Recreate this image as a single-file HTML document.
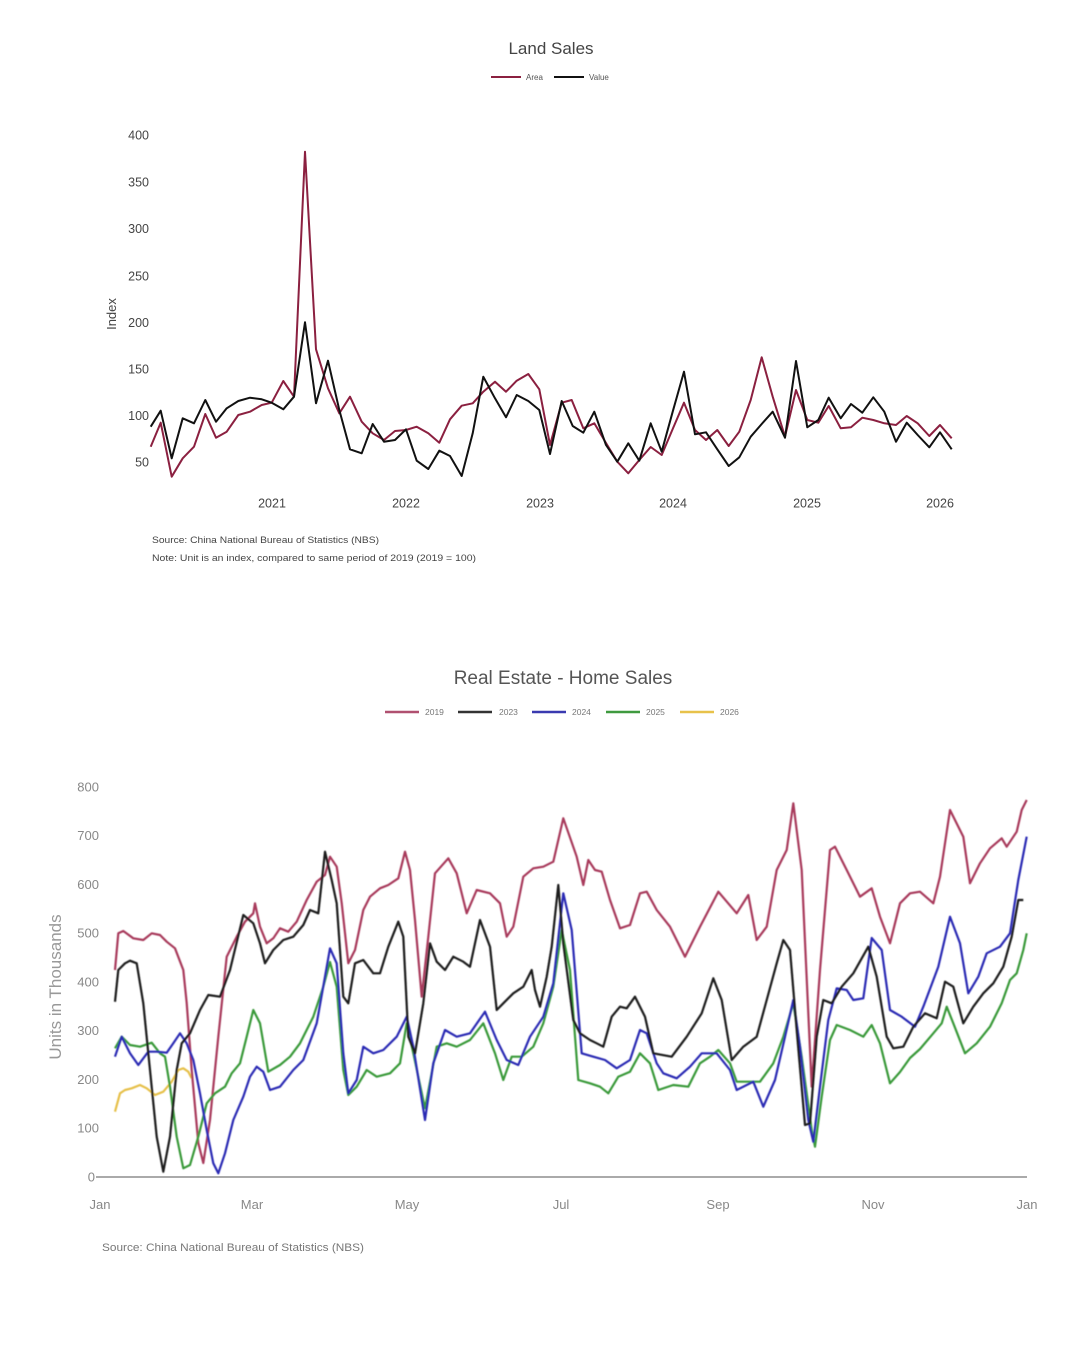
<!DOCTYPE html>
<html><head><meta charset="utf-8"><style>
html,body{margin:0;padding:0;background:#fff;}
svg{display:block;font-family:"Liberation Sans","DejaVu Sans",sans-serif;}
</style></head><body>
<svg width="1080" height="1350" viewBox="0 0 1080 1350" xmlns="http://www.w3.org/2000/svg">
<defs><filter id="soft" x="-5%" y="-5%" width="110%" height="110%"><feGaussianBlur stdDeviation="0.55"/></filter></defs>
<rect width="1080" height="1350" fill="#fff"/>
<!-- TOP CHART -->
<text x="551" y="54" text-anchor="middle" font-size="17" fill="#444">Land Sales</text>
<line x1="491" y1="77" x2="521" y2="77" stroke="#8b2040" stroke-width="2"/>
<text x="526" y="80" font-size="8" fill="#555">Area</text>
<line x1="554" y1="77" x2="584" y2="77" stroke="#111" stroke-width="2"/>
<text x="589" y="80" font-size="8" fill="#555">Value</text>
<g font-size="12.5" fill="#444" text-anchor="end">
<text x="149" y="139.5">400</text>
<text x="149" y="186.5">350</text>
<text x="149" y="233">300</text>
<text x="149" y="280.5">250</text>
<text x="149" y="327">200</text>
<text x="149" y="373.5">150</text>
<text x="149" y="420">100</text>
<text x="149" y="466.5">50</text>
</g>
<text transform="translate(116,314) rotate(-90)" text-anchor="middle" font-size="13" fill="#444">Index</text>
<g font-size="12.5" fill="#444" text-anchor="middle">
<text x="272" y="507.5">2021</text>
<text x="406" y="507.5">2022</text>
<text x="540" y="507.5">2023</text>
<text x="673" y="507.5">2024</text>
<text x="807" y="507.5">2025</text>
<text x="940" y="507.5">2026</text>
</g>
<polyline fill="none" stroke="#8b2040" stroke-width="2" stroke-linejoin="round" points="150.7,446.7 160.7,422.7 171.7,476.7 182.7,458.3 194,446.7 205.3,414 216,437.7 226.7,431.7 238.3,415 250,411.7 261.7,405 271.7,402.7 283.3,381 294,396.7 305,151.7 316,349.3 328,388.3 339.3,413.3 350,396.7 361.7,421.7 372.7,433.3 384,440 395,431 406,430 416.7,426.7 428.3,433.3 439.3,442.7 450,419.3 461.7,405.7 472.7,403.3 483.3,391.7 495,381.7 506,391.7 516.7,380.7 528.3,374 539.3,389.3 550,445 561.7,402.7 571.7,400 583.3,428.3 594.3,423.3 606,443 617.3,461.7 628.3,473.3 639.3,460 650.7,447 661.7,455 672.7,429 684,402.7 695,430 706,440 717.3,430 728.7,446 739.3,431.7 750.7,400 761.7,357.3 772.7,396.7 785,436.7 796,390 807.3,420 818.3,422.7 828.7,406 840.7,428.3 851,427.3 862.3,417.7 873.3,420 884.3,423.3 896,425 906.7,416 917.7,423.3 929.3,436 940,425 951.7,438.3"/>
<polyline fill="none" stroke="#111" stroke-width="2" stroke-linejoin="round" points="150.7,426.7 160.7,410.7 171.7,458.3 182.7,418.3 194,423.3 205.3,400 216,421.7 226.7,408.3 238.3,401 250,397.7 261.7,399.3 271.7,402.7 283.3,409.3 294,396.7 305,322.3 316,403.3 328,360.7 339.3,410 350,449.3 361.7,453.3 372.7,424 384,441.7 395,440 406,429.3 416.7,460.7 428.3,469 439.3,450.7 450,456 461.7,476 472.7,433.3 483.3,376.7 495,398.3 506,417.3 516.7,395 528.3,401 539.3,410 550,454 561.7,401 572.7,426 583.3,432.7 594.3,411.7 606,445 617.3,461.7 628.3,443.3 639.3,460.7 650.7,423.3 661.7,451.7 672.7,411.7 684,371.7 695,434.3 706,432.3 717.3,449.3 728.7,466 739.3,457.3 750.7,436.7 761.7,424 772.7,411.7 785,437.7 796,361 807.3,427.3 818.3,420 828.7,397.7 840.7,418.3 851,404 862.3,412.7 873.3,397.3 884.3,411.7 896,441.7 906.7,422.7 917.7,435 929.3,447.3 940,432.3 951.7,449.3"/>
<text x="152" y="543" font-size="9.5" fill="#444" textLength="227" lengthAdjust="spacingAndGlyphs">Source: China National Bureau of Statistics (NBS)</text>
<text x="152" y="561" font-size="9.5" fill="#444" textLength="324" lengthAdjust="spacingAndGlyphs">Note: Unit is an index, compared to same period of 2019 (2019 = 100)</text>

<!-- BOTTOM CHART -->
<text x="563" y="684" text-anchor="middle" font-size="19" fill="#555">Real Estate - Home Sales</text>
<g stroke-width="2.5">
<line x1="385" y1="712" x2="419" y2="712" stroke="#b05070"/>
<line x1="458" y1="712" x2="492" y2="712" stroke="#333"/>
<line x1="532" y1="712" x2="566" y2="712" stroke="#3a3ab0"/>
<line x1="606" y1="712" x2="640" y2="712" stroke="#3f9a3f"/>
<line x1="680" y1="712" x2="714" y2="712" stroke="#e8c24a"/>
</g>
<g font-size="8.5" fill="#777">
<text x="425" y="715">2019</text>
<text x="499" y="715">2023</text>
<text x="572" y="715">2024</text>
<text x="646" y="715">2025</text>
<text x="720" y="715">2026</text>
</g>
<g font-size="13" fill="#888" text-anchor="end">
<text x="99" y="791.5">800</text>
<text x="99" y="840">700</text>
<text x="99" y="889">600</text>
<text x="99" y="937.5">500</text>
<text x="99" y="986.5">400</text>
<text x="99" y="1035">300</text>
<text x="99" y="1084">200</text>
<text x="99" y="1132.5">100</text>
<text x="95" y="1181.5">0</text>
</g>
<text transform="translate(61,987) rotate(-90)" text-anchor="middle" font-size="17" fill="#999">Units in Thousands</text>
<line x1="96" y1="1177" x2="1027" y2="1177" stroke="#aaa" stroke-width="2"/>
<g font-size="13" fill="#888" text-anchor="middle">
<text x="100" y="1209">Jan</text>
<text x="252" y="1209">Mar</text>
<text x="407" y="1209">May</text>
<text x="561" y="1209">Jul</text>
<text x="718" y="1209">Sep</text>
<text x="873" y="1209">Nov</text>
<text x="1027" y="1209">Jan</text>
</g>
<g fill="none" stroke-width="2.2" stroke-linejoin="round" filter="url(#soft)">
<polyline stroke="#e6c04a" points="115,1111.7 120,1093.3 125,1090 131.7,1088.3 140,1085 146.7,1088.3 155,1095 163.3,1091.7 171.7,1081.7 178.3,1070 183.3,1068.3 188.3,1071.7 191.7,1078.3"/>
<polyline stroke="#a83a5c" points="115,970 118.3,933.3 123.3,931 133.3,938.3 143.3,940 151.7,933.3 160,935 166.7,941.7 175,948.3 183.3,970 186.7,1003 191.7,1070 198.3,1143 203.3,1163 210,1120 218.3,1036.7 226.7,956.7 236.7,936.7 245,921.7 253.3,913.3 255,903.3 260,926.7 266.7,943.3 273.3,938.3 280,928.3 288.3,931.7 296.7,921.7 306.7,900 316.7,881.7 325,875 330,856.7 336.7,866.7 341.7,903 348.3,963.3 355,950 363.3,910 370,896.7 380,888.3 388.3,885 398.3,878.3 405,851.7 410,870 415,920 421.7,996.7 428.3,936.7 435,873.3 448.3,858.3 456.7,873.3 466.7,913.3 476.7,890 490,893.3 500,903.3 506.7,936.7 513.3,926.7 523.3,876.7 533.3,868.3 543.3,866.7 553.3,861.7 563.3,818.3 576.7,856.7 583.3,885 588.3,860 595,870 601.7,871.7 610,900 620,928.3 630,925 640,893.3 646.7,891.7 656.7,910 670,926.7 685,956.7 700,926.7 718.3,891.7 736.7,913.3 748.3,895 756.7,940 766.7,926.7 776.7,870 786.7,850 793.3,803.3 801.7,870 811.7,1086.7 820,970 830,850 835,846.7 846.7,870 860,896.7 871.7,888.3 880,916.7 890,943.3 900,903.3 910,893.3 920,891.7 933.3,903.3 940,876.7 950,810 963.3,836.7 970,883.3 980,863.3 990,848.3 1001.7,838.3 1006.7,846.7 1016.7,831.7 1021.7,810 1026.7,800"/>
<polyline stroke="#3a9a3a" points="115,1048.3 121.7,1036.7 130,1045 140,1046.7 151.7,1042.7 160,1053.3 165,1056.7 170,1086.7 176.7,1136.7 183.3,1168.3 190,1165 198.3,1136.7 206.7,1103.3 215,1093.3 225,1086.7 231.7,1073.3 240,1063.3 246.7,1036.7 253.3,1010 260,1023.3 268.3,1071.7 280,1065 290,1056.7 300,1043.3 313.3,1016.7 323.3,986.7 330,962 336.7,986.7 343.3,1070 348.3,1095 356.7,1086.7 366.7,1070 376.7,1076.7 390,1073.3 400,1063.3 406.7,1023.3 413.3,1053.3 425,1108.3 436.7,1046.7 446.7,1043.3 456.7,1046.7 470,1040 483.3,1023.3 495,1053.3 503.3,1080 511.7,1056.7 521.7,1056.7 533.3,1046.7 543.3,1023.3 553.3,986.7 561.7,930 570,970 578.3,1080 590,1083.3 600,1086.7 608.3,1093.3 618.3,1076.7 630,1071.7 640,1053.3 650,1063.3 658.3,1090 673.3,1085 688.3,1086.7 700,1063.3 710,1056.7 718.3,1050 730,1063.3 736.7,1081.7 746.7,1081.7 760,1081.7 773.3,1063.3 783.3,1036.7 793.3,1003.3 801.7,1056.7 811.7,1130 815,1146.7 821.7,1096.7 830,1040 836.7,1025 850,1030 863.3,1036.7 871.7,1025 880,1043.3 890,1083.3 900,1072 910,1058 920,1049 933.3,1033.3 941.7,1023.3 946.7,1006.7 953.3,1023.3 965,1053.3 976.7,1043.3 990,1026.7 1001.7,1003.3 1010,980 1016.7,973.3 1023.3,950 1026.7,933.3"/>
<polyline stroke="#2c2cb4" points="115,1056.7 121.7,1036.7 130,1053.3 138.3,1065 148.3,1051.7 156.7,1051.7 166.7,1052.7 173.3,1043.3 180,1033.3 186.7,1043.3 193.3,1060 200,1093.3 206.7,1130 213.3,1163.3 218.3,1173.3 225,1153.3 233.3,1120 243.3,1096.7 250,1076.7 256.7,1066.7 263.3,1071.7 270,1090 280,1086.7 293.3,1070 303.3,1060 316.7,1023.3 325,976.7 330,948.3 336.7,963.3 343.3,1053.3 348.3,1093.3 356.7,1080 363.3,1046.7 373.3,1053.3 383.3,1050 396.7,1036.7 406.7,1016.7 413.3,1046.7 425,1120 433.3,1063.3 445,1030 456.7,1036.7 470,1033.3 485,1011.7 496.7,1040 506.7,1060 518.3,1065 530,1036.7 543.3,1016.7 553.3,983.3 563.3,893.3 571.7,930 581.7,1053.3 593.3,1056.7 605,1060 616.7,1068.3 630,1060 640,1030 646.7,1033.3 656.7,1063.3 663.3,1073.3 676.7,1078.3 690,1066.7 701.7,1053.3 716.7,1053.3 730,1070 736.7,1090 753.3,1081.7 763.3,1106.7 775,1080 785,1036.7 793.3,1000 800,1046.7 808.3,1120 813.3,1141.7 820,1086.7 828.3,1020 836.7,988.3 846.7,990 853.3,1000 863.3,998.3 871.7,938 881.7,950 890,1010 901.7,1016.7 915,1026.7 923.3,1006.7 938.3,966.7 950,916.7 960,943.3 968.3,993.3 978.3,976.7 986.7,953.3 1000,946.7 1010,933.3 1018.3,880 1026.7,836.7"/>
<polyline stroke="#1c1c1c" points="115,1001.7 118.3,970 125,963.3 130,960.7 136.7,963.3 143.3,1003.3 150,1070 156.7,1136.7 163.3,1171.7 170,1136.7 176.7,1070 181.7,1043.3 190,1033.3 200,1010 208.3,995 220,996.7 230,970 243.3,915 253.3,923.3 260,943.3 265,963.3 273.3,950 283.3,940 293.3,936.7 303.3,925 310,910 318.3,913.3 325,851.7 331.7,880 336.7,903.3 343.3,996.7 348.3,1003.3 355,963.3 363.3,960 373.3,973.3 380,973.3 388.3,946.7 398.3,921.7 403.3,936.7 408.3,1036.7 415,1053.3 423.3,1003.3 430,943.3 436.7,961.7 445,970 453.3,956.7 463.3,961.7 470,966.7 480,920 490,946.7 496.7,1010 503.3,1003.3 513.3,993.3 523.3,986.7 531.7,970 535,990 540,1006.7 546.7,976.7 551.7,946.7 558.3,885 563.3,943.3 573.3,1020 580,1033.3 590,1040 596.7,1043.3 603.3,1046.7 611.7,1016.7 620,1006.7 626.7,1008.3 635,996.7 645,1016.7 653.3,1053.3 671.7,1056.7 686.7,1036.7 701.7,1013.3 713.3,978.3 721.7,1000 731.7,1060 743.3,1046.7 756.7,1036.7 766.7,1000 776.7,963.3 783.3,940 790,950 796.7,1030 805,1125 810,1123.3 816.7,1036.7 823.3,1000 831.7,1003.3 841.7,986.7 853.3,973.3 868.3,946.7 876.7,976.7 886.7,1036.7 893.3,1048.3 903.3,1046.7 913.3,1026.7 925,1013.3 936.7,1018.3 945,981.7 953.3,986.7 963.3,1023.3 973.3,1006.7 983.3,993.3 993.3,983.3 1003.3,966.7 1011.7,936.7 1018.3,900 1023.3,900"/>
</g>
<text x="102" y="1251" font-size="11" fill="#777" textLength="262" lengthAdjust="spacingAndGlyphs">Source: China National Bureau of Statistics (NBS)</text>
</svg>
</body></html>
